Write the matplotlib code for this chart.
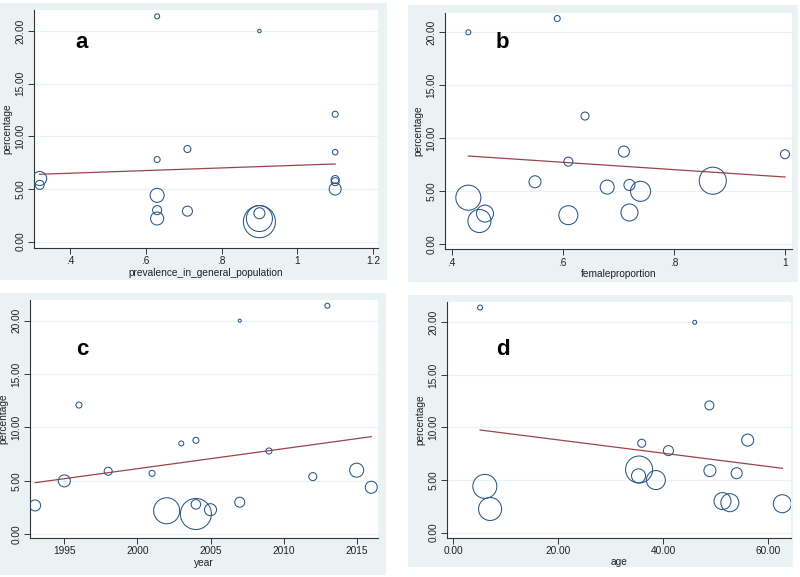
import matplotlib
matplotlib.use("Agg")
import matplotlib.pyplot as plt
from matplotlib.patches import Rectangle

plt.rcParams['font.family'] = ['Liberation Sans', 'DejaVu Sans']

# ---- data ----
pct_label = "percentage"

# a: prevalence in general population
prev_x = [0.63, 0.90, 1.10, 1.10, 0.71, 0.63, 0.32, 0.32, 1.10, 1.10, 1.10,
          0.63, 0.63, 0.63, 0.71, 0.90, 0.90, 0.90]
prev_y = [21.4, 20.0, 12.1, 8.5, 8.8, 7.8, 6.0, 5.4, 5.9, 5.7, 5.0,
          4.4, 3.0, 2.2, 2.9, 2.7, 2.2, 1.9]
prev_w = [25, 12, 36, 30, 49, 36, 196, 81, 64, 64, 144,
          196, 81, 169, 100, 121, 676, 1024]
prev_fit_x = [0.32, 1.10]
prev_fit_y = [6.40, 7.38]

# b: female proportion
fem_x = [0.43, 0.59, 0.64, 0.71, 1.00, 0.61, 0.55, 0.87, 0.68, 0.72, 0.74,
         0.43, 0.46, 0.45, 0.61, 0.72]
fem_y = [20.0, 21.3, 12.1, 8.75, 8.5, 7.8, 5.9, 6.0, 5.4, 5.6, 5.0,
         4.4, 2.9, 2.2, 2.75, 3.0]
fem_w = [25, 36, 64, 121, 81, 81, 144, 729, 196, 121, 400,
         625, 289, 529, 361, 289]
fem_fit_x = [0.43, 1.00]
fem_fit_y = [8.33, 6.35]

# c: year
year_x = [1993, 1995, 1996, 1998, 2001, 2002, 2003, 2004, 2004, 2004, 2005,
          2007, 2007, 2009, 2012, 2013, 2015, 2016]
year_y = [2.7, 5.0, 12.1, 5.9, 5.7, 2.2, 8.5, 8.8, 2.8, 1.9, 2.3,
          20.0, 3.0, 7.8, 5.4, 21.4, 6.0, 4.4]
year_w = [121, 144, 36, 64, 36, 676, 25, 36, 90, 961, 144,
          9, 100, 36, 64, 25, 196, 144]
year_fit_x = [1993, 2016]
year_fit_y = [4.83, 9.14]

# d: age
age_x = [5.1, 46.0, 48.8, 56.1, 35.9, 41.0, 35.4, 35.3, 38.6, 48.9, 54.0,
         6.0, 7.0, 51.3, 52.7, 62.7]
age_y = [21.4, 20.0, 12.1, 8.8, 8.5, 7.8, 6.0, 5.4, 5.0, 5.9, 5.65,
         4.4, 2.25, 3.0, 2.85, 2.75]
age_w = [25, 16, 81, 144, 64, 100, 729, 196, 361, 144, 121,
         576, 529, 289, 324, 324]
age_fit_x = [5.1, 62.7]
age_fit_y = [9.76, 6.12]

y_ticks = [0, 5, 10, 15, 20]
y_ticklabels = ["0.00", "5.00", "10.00", "15.00", "20.00"]

NAVY = "#2A5682"
MAROON = "#9A4448"
BG = "#EAF2F3"


def bubble_panel(fig, rect, x, y, w, fx, fy, xlim, ylim, xticks, xticklabels,
                 xlabel, letter, letter_xy):
    ax = fig.add_axes(rect)
    # area of circle proportional to weight
    sizes = [v * 0.52 for v in w]
    ax.scatter(x, y, s=sizes, facecolors='none', edgecolors=NAVY,
               linewidths=0.75, zorder=3)
    ax.plot(fx, fy, color=MAROON, linewidth=0.9, zorder=2)
    ax.set_xlim(xlim)
    ax.set_ylim(ylim)
    ax.set_yticks(y_ticks)
    ax.set_yticklabels(y_ticklabels, rotation=90, va='center')
    ax.set_xticks(xticks)
    ax.set_xticklabels(xticklabels)
    ax.grid(axis='y', color=BG, linewidth=0.9, zorder=0)
    ax.set_axisbelow(True)
    for s in ['top', 'right']:
        ax.spines[s].set_visible(False)
    for s in ['left', 'bottom']:
        ax.spines[s].set_color('#333333')
        ax.spines[s].set_linewidth(0.8)
    ax.tick_params(axis='both', labelsize=7.3, length=4, width=0.7,
                   color='#333333', labelcolor='#222222', pad=2)
    ax.set_xlabel(xlabel, fontsize=7.3, labelpad=1, color='#222222')
    ax.set_ylabel(pct_label, fontsize=7.3, labelpad=2, color='#222222')
    ax.text(letter_xy[0], letter_xy[1], letter, fontsize=16,
            fontweight='bold', ha='center', va='center')
    return ax


fig = plt.figure(figsize=(8.0, 5.77), dpi=100)
W, H = 800.0, 577.0

# light-blue graph regions behind each panel
for (x0, y0, x1, y1) in [(0, 3, 387, 280), (408, 5, 798, 282),
                         (0, 293, 386, 575), (408, 295, 793, 567)]:
    fig.patches.append(Rectangle((x0 / W, 1 - y1 / H), (x1 - x0) / W,
                                 (y1 - y0) / H, transform=fig.transFigure,
                                 facecolor=BG, edgecolor='none', zorder=-1))

bubble_panel(fig, [34 / W, 1 - 248 / H, 344 / W, 238 / H],
             prev_x, prev_y, prev_w, prev_fit_x, prev_fit_y,
             (0.305, 1.213), (-0.6, 22.0),
             [0.4, 0.6, 0.8, 1.0, 1.2], [".4", ".6", ".8", "1", "1.2"],
             "prevalence_in_general_population", "a", (0.431, 18.9))

bubble_panel(fig, [445 / W, 1 - 249.3 / H, 347 / W, 236.6 / H],
             fem_x, fem_y, fem_w, fem_fit_x, fem_fit_y,
             (0.388, 1.0126), (-0.47, 21.85),
             [0.4, 0.6, 0.8, 1.0], [".4", ".6", ".8", "1"],
             "femaleproportion", "b", (0.492, 19.0))

bubble_panel(fig, [30 / W, 1 - 538 / H, 348 / W, 238 / H],
             year_x, year_y, year_w, year_fit_x, year_fit_y,
             (1992.65, 2016.46), (-0.35, 21.94),
             [1995, 2000, 2005, 2010, 2015],
             ["1995", "2000", "2005", "2010", "2015"],
             "year", "c", (1996.2, 17.3))

bubble_panel(fig, [446.7 / W, 1 - 537.7 / H, 344 / W, 236 / H],
             age_x, age_y, age_w, age_fit_x, age_fit_y,
             (-1.27, 64.3), (-0.48, 21.96),
             [0, 20, 40, 60], ["0.00", "20.00", "40.00", "60.00"],
             "age", "d", (9.4, 17.4))

fig.savefig("out.png", dpi=100, facecolor='white')
